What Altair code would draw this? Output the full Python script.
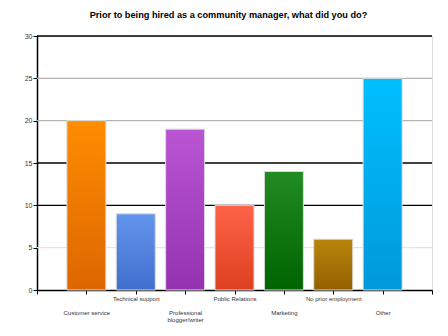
import altair as alt
import pandas as pd
import json

categories = ["Customer service", "Technical support", "Professional blogger/writer",
              "Public Relations", "Marketing", "No prior employment", "Other"]
label_lines = [["Customer service"], ["Technical support"], ["Professional", "blogger/writer"],
               ["Public Relations"], ["Marketing"], ["No prior employment"], ["Other"]]
counts = [20, 9, 19, 10, 14, 6, 25]
positions = [1, 2, 3, 4, 5, 6, 7]

top_colors = ["#ff8c00", "#6495ed", "#ba55d3", "#ff6347", "#228b22", "#b8860b", "#00bfff"]
bottom_colors = ["#dd6600", "#3f6fcc", "#9432b0", "#dd4020", "#006400", "#936000", "#0099d9"]

grid_black = [10, 15, 30]
grid_gray = [20, 25]
grid_light = [5]

df = pd.DataFrame({"pos": positions, "category": categories, "count": counts})

# label expression: alternate rows (zero-width space lines push odd labels down)
ZWSP = "\u200b"
arr = []
for i, lines in enumerate(label_lines):
    if i % 2 == 0:
        arr.append([ZWSP, ZWSP] + lines)
    else:
        arr.append(lines)
label_expr = ("datum.value >= 1 && datum.value <= 7 ? " + json.dumps(arr) +
              "[datum.value - 1] : ''")

xscale = alt.Scale(domain=[0, 8], nice=False, zero=False, padding=0)
yscale = alt.Scale(domain=[0, 30], nice=False)

x_axis = alt.Axis(values=list(range(0, 9)), labelExpr=label_expr, title=None, grid=False,
                  domainColor="black", tickColor="black", tickSize=4, labelFontSize=6,
                  labelLineHeight=7, labelFont="Liberation Sans", labelColor="#333340",
                  labelBaseline="top", labelPadding=1, labelAngle=0, labelAlign="center",
                  labelOverlap=False, labelFlush=False, domainWidth=1.5)
y_axis = alt.Axis(values=[0, 5, 10, 15, 20, 25, 30], title=None, grid=False,
                  domainColor="black", tickColor="black", tickSize=4, labelFontSize=7,
                  labelFont="Liberation Sans", labelColor="#333340", labelPadding=1,
                  domainWidth=1.5)

def rules(vals, color):
    return alt.Chart(pd.DataFrame({"v": vals})).mark_rule(color=color, strokeWidth=1.3).encode(
        y=alt.Y("v:Q", scale=yscale, axis=y_axis))

layers = [rules(grid_light, "#e4e4e4"), rules(grid_gray, "#b4b4b4"), rules(grid_black, "#000000")]

for i, cat in enumerate(categories):
    grad = alt.Gradient(gradient="linear", x1=0, y1=0, x2=0, y2=1,
                        stops=[alt.GradientStop(offset=0, color=top_colors[i]),
                               alt.GradientStop(offset=1, color=bottom_colors[i])])
    layers.append(
        alt.Chart(df).transform_filter(alt.datum.category == cat)
        .mark_bar(fill=grad, stroke="#dcdcdc", strokeWidth=1, width=39)
        .encode(x=alt.X("pos:Q", scale=xscale, axis=x_axis),
                y=alt.Y("count:Q", scale=yscale, axis=y_axis))
    )

chart = alt.layer(*layers).properties(
    width=395, height=254,
    autosize=alt.AutoSizeParams(type="none"),
    padding={"left": 37, "top": 36, "right": 16, "bottom": 46},
    title=alt.TitleParams("Prior to being hired as a community manager, what did you do?",
                          font="Liberation Sans", fontSize=9.2, fontWeight="bold",
                          color="#000000", anchor="middle", offset=12, dx=-6),
).configure_view(stroke=None).configure(background="white")

chart.save("out.html", embed_options={"renderer": "svg", "actions": False})
